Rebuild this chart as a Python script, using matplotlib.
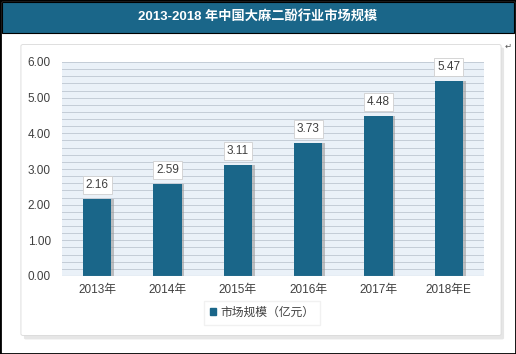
import matplotlib
matplotlib.use("Agg")
import matplotlib.pyplot as plt
from matplotlib.patches import Rectangle, FancyBboxPatch
import numpy as np

plt.rcParams['font.family'] = ['Liberation Sans', 'Noto Sans CJK SC', 'DejaVu Sans']

categories = ["2013年", "2014年", "2015年", "2016年", "2017年", "2018年E"]
values = [2.16, 2.59, 3.11, 3.73, 4.48, 5.47]
title = "2013-2018 年中国大麻二酚行业市场规模"
legend_label = "市场规模（亿元）"

W, H = 516, 354
fig = plt.figure(figsize=(W/100, H/100), dpi=100)

def fx(x): return x / W
def fy(y): return 1 - y / H

# outer border
fig.patches.append(Rectangle((0, 0), 1, 1, transform=fig.transFigure, fill=False,
                             edgecolor='black', linewidth=2, zorder=10))
# title band
fig.patches.append(Rectangle((fx(2), fy(33)), fx(512), 31/H, transform=fig.transFigure,
                             facecolor='#1a6689', edgecolor='black', linewidth=0.8, zorder=1))
fig.text(0.5, fy(17), title, color='white', fontsize=9.5, fontweight='bold',
         ha='center', va='center', zorder=11)
# inner panel with shadow
fig.patches.append(FancyBboxPatch((fx(26), fy(338)), fx(476), (338-49)/H,
                                  boxstyle="round,pad=0.004", transform=fig.transFigure,
                                  facecolor='#e6e6e6', edgecolor='none', zorder=1))
fig.patches.append(FancyBboxPatch((fx(23), fy(334)), fx(476), (334-46)/H,
                                  boxstyle="round,pad=0.004", transform=fig.transFigure,
                                  facecolor='white', edgecolor='#d9d9d9', linewidth=0.6, zorder=2))

ax = fig.add_axes([fx(62), fy(276), fx(422), (276-62)/H], zorder=5)
ax.set_facecolor('#eaf1f8')
x = np.arange(len(categories))
# shadows
ax.bar(x + 0.04, values, width=0.4, color='#9a9a9a', alpha=0.6, zorder=2)
bars = ax.bar(x, values, width=0.4, color='#1a6689', zorder=3)
ax.set_ylim(0, 6)
ax.set_xlim(-0.5, len(categories) - 0.5)
ax.set_yticks(np.arange(0, 6.01, 1))
ax.set_yticklabels([f"{v:.2f}" for v in np.arange(0, 6.01, 1)])
ax.set_yticks(np.arange(0, 6.01, 0.2), minor=True)
ax.grid(axis='y', which='both', color='#c3ccd6', linewidth=0.7, zorder=0)
ax.set_axisbelow(True)
ax.set_xticks(x)
ax.set_xticklabels(categories)
ax.tick_params(axis='both', which='both', length=0, labelsize=8.5, colors='#404040')
ax.tick_params(axis='y', pad=8)
ax.tick_params(axis='x', pad=6)
for s in ax.spines.values():
    s.set_visible(False)
ax.axhline(0, color='#b0b0b0', linewidth=0.8, zorder=4)

for xi, v in zip(x, values):
    ax.annotate(f"{v:.2f}", (xi, v), xytext=(0, 10), textcoords='offset points',
                ha='center', va='center', fontsize=8.5, color='#404040', zorder=6,
                bbox=dict(boxstyle='square,pad=0.25', facecolor='white', edgecolor='#cfcfcf', linewidth=0.6))

leg = fig.legend([Rectangle((0, 0), 1, 1, color='#1a6689')], [legend_label],
                 loc='center', bbox_to_anchor=(fx(262), fy(313)), fontsize=8.5,
                 handlelength=0.5, handleheight=0.5, frameon=True, fancybox=False,
                 edgecolor='#eeeeee', borderpad=0.5, handletextpad=0.4)
for t in leg.get_texts():
    t.set_color('#404040')
leg.set_zorder(12)

fig.text(fx(508), fy(46), "↵", fontsize=6, color='#555555', ha='center', va='center',
         family=['DejaVu Sans'], zorder=11)

fig.savefig("out.png", dpi=100)
